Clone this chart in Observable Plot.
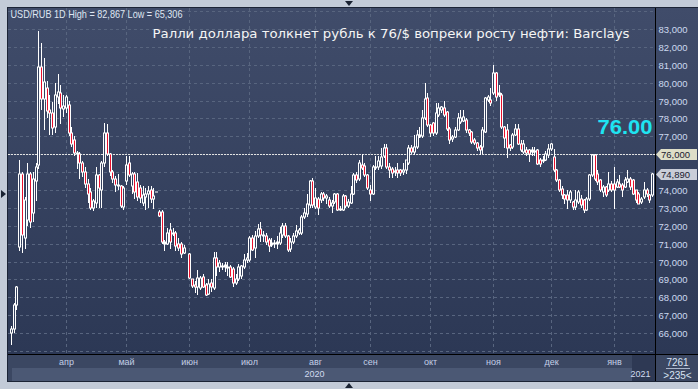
<!DOCTYPE html>
<html><head><meta charset="utf-8">
<script src="https://cdn.jsdelivr.net/npm/d3@7"></script>
<script src="https://cdn.jsdelivr.net/npm/@observablehq/plot@0.6"></script>
<style>
html,body{margin:0;padding:0;background:#c3cbd8;}
#wrap{position:relative;width:698px;height:389px;overflow:hidden;background:#c3cbd8;}
.abs{position:absolute;}
</style></head><body>
<div id="wrap">
 <div class="abs" style="left:7px;top:7px;width:691px;height:375px;background:#1c2436"></div>
 <div class="abs" style="left:8px;top:8px;width:690px;height:346px;background:linear-gradient(#404c6a,#2c3855)"></div>
 <div class="abs" style="left:8px;top:355px;width:690px;height:26px;background:#3b4762"></div>
 <div class="abs" style="left:12px;top:368px;width:620px;height:13px;background:#4b5874"></div>
 <div class="abs" style="left:632px;top:355px;width:23px;height:26px;background:#2e3954"></div>
 <div class="abs" style="left:8px;top:354px;width:690px;height:1px;background:#000"></div>
 <div class="abs" style="left:655px;top:8px;width:1px;height:373px;background:#000"></div>
 <div class="abs" style="left:666px;top:368px;width:24px;height:1px;background:#aab6cc"></div>
 <div class="abs" style="left:345px;top:1px;width:0;height:0;border-left:4px solid transparent;border-right:4px solid transparent;border-top:5px solid #1a2232"></div>
 <div class="abs" style="left:345px;top:383px;width:0;height:0;border-left:4px solid transparent;border-right:4px solid transparent;border-bottom:5px solid #1a2232"></div>
 <div class="abs" style="left:1px;top:190px;width:0;height:0;border-top:4px solid transparent;border-bottom:4px solid transparent;border-left:5px solid #1a2232"></div>
 <div id="chart" class="abs" style="left:0;top:0"></div>
</div>
<script>
// ---- data (USD/RUB daily candles, one slot per trading day; null = empty slot) ----
const open = [
66.0,66.25,67.55,70.8,74.9,71.3,72.3,74.9,72.7,74.5,
75.4,80.9,79.1,79.7,78.5,78.3,77.5,79.2,79.45,78.55,
78.6,78.75,77.2,76.8,76.05,76.0,75.5,75.0,74.35,73.9,
73.0,73.3,74.85,74.0,75.5,77.2,76.0,75.0,74.6,74.3,
74.2,73.05,74.5,75.5,74.2,74.9,74.45,74.1,73.3,73.6,
73.8,74.0,73.5,73.9,72.75,72.75,71.1,71.0,71.75,71.6,
71.6,71.0,71.0,70.5,null,70.4,69.0,68.7,68.6,68.5,
69.15,68.7,68.2,68.8,68.5,70.2,69.7,69.75,69.7,69.7,
69.7,69.6,68.8,69.0,69.2,69.7,70.1,70.1,71.3,70.75,
71.4,71.8,71.5,71.45,71.2,70.95,71.05,71.0,71.05,71.5,
72.0,71.4,70.7,71.1,71.4,71.6,71.6,72.5,72.65,73.15,
74.5,73.05,73.5,73.45,73.8,73.55,73.45,73.1,73.35,73.75,
72.95,72.9,73.65,73.1,73.3,73.8,74.85,74.6,75.4,75.35,
74.85,74.0,73.75,75.3,75.3,75.35,75.9,76.35,75.3,75.2,
75.0,75.12,75.1,74.98,75.1,75.5,76.34,76.15,76.43,76.99,
77.0,78.0,79.13,77.64,77.73,77.17,78.2,78.48,78.57,78.38,
77.4,76.84,76.95,77.36,77.83,77.88,77.92,77.36,77.27,76.8,
76.61,76.43,76.43,77.27,79.04,79.04,79.4,80.53,79.31,79.31,
77.55,77.36,76.52,76.43,77.08,77.4,76.6,76.13,76.26,76.26,
76.13,76.2,76.22,75.7,75.6,75.66,75.94,76.32,75.85,75.11,
74.55,74.08,73.71,73.71,73.43,73.34,73.06,73.34,73.52,73.43,
72.87,73.52,74.83,75.94,74.9,74.55,73.9,74.18,73.99,74.36,
74.36,74.18,74.36,74.27,74.18,74.45,74.64,74.55,73.99,73.8,
73.34,73.62,73.99,73.71,73.71
];
const high = [
66.4,67.7,68.64,75.7,75.0,73.6,75.5,75.0,75.0,75.5,
82.867,82.2,81.36,80.1,79.3,78.9,80.0,80.5,79.9,79.3,
79.3,79.0,77.5,77.0,76.2,76.1,75.6,75.3,74.6,74.1,
73.5,75.3,74.9,75.6,77.75,77.7,76.05,75.1,74.8,74.9,
74.3,74.2,75.9,75.9,75.0,75.0,74.95,74.3,74.2,74.1,
74.2,74.2,74.1,73.9,72.9,72.9,71.2,71.9,72.15,71.85,
71.7,71.3,71.1,70.9,null,70.5,69.0,68.9,69.5,69.2,
69.3,68.8,69.0,69.0,70.55,70.55,70.1,69.9,70.0,70.0,
69.8,69.7,69.3,69.85,69.8,70.4,70.5,71.4,71.5,71.7,
72.1,72.2,71.7,71.6,71.3,71.3,71.2,71.45,71.95,72.15,
72.15,71.5,71.3,71.6,72.05,71.9,72.6,72.98,73.8,74.55,
74.66,74.1,73.6,73.9,73.9,73.8,73.6,73.45,73.82,73.82,
73.1,73.8,73.7,73.5,74.2,74.95,75.0,75.7,76.0,75.5,
74.9,74.3,75.4,75.9,75.9,76.35,76.6,76.55,75.5,75.3,
75.3,75.5,75.2,75.5,75.7,76.5,76.52,77.08,77.36,77.55,
78.5,79.97,79.4,77.7,77.8,78.85,78.85,78.7,79.0,78.4,
77.5,77.1,77.5,78.29,78.5,78.5,78.0,77.4,77.3,76.9,
76.7,76.5,77.5,79.22,79.3,79.7,81.0,80.6,79.9,79.4,
77.6,77.7,76.6,77.2,77.7,77.7,76.8,76.8,76.4,76.3,
76.4,76.4,76.3,75.8,75.9,76.2,76.6,76.65,76.3,75.2,
74.6,74.2,73.8,74.0,74.0,73.4,74.0,74.0,73.7,73.5,
73.6,74.9,76.04,76.04,75.1,74.6,74.3,74.25,75.01,74.5,
75.29,74.6,74.83,74.4,74.73,75.11,74.7,74.6,74.0,73.9,
73.6,74.45,74.1,73.8,74.95
];
const low = [
65.306,66.0,67.3,70.6,70.5,70.7,72.0,71.9,72.2,73.4,
75.2,78.5,77.36,78.0,77.1,77.1,77.2,78.8,77.7,78.1,
78.3,77.0,76.4,75.9,75.2,74.6,74.7,74.1,73.3,72.9,
72.8,73.0,73.0,73.0,75.3,75.9,74.8,74.4,73.9,74.0,
73.0,72.9,74.3,74.7,73.8,73.5,73.4,73.3,73.1,72.9,
72.98,73.3,72.95,73.9,72.5,71.0,70.6,70.9,70.7,71.4,
70.6,70.6,70.2,70.4,null,69.0,68.5,68.25,68.15,68.4,
68.5,68.05,68.1,68.3,68.4,69.2,69.4,69.5,69.4,69.2,
69.1,68.6,68.7,68.9,69.0,69.6,69.9,70.0,70.6,70.2,
71.3,71.1,71.1,70.9,70.55,70.8,70.75,70.7,70.95,71.3,
71.3,70.55,70.55,71.0,71.3,71.5,71.5,72.4,72.5,73.0,
73.0,72.95,72.6,73.3,73.4,73.2,72.98,72.7,73.2,72.8,
72.85,72.85,73.0,73.0,73.2,73.7,74.4,74.5,75.1,74.7,
74.0,73.4,73.7,75.1,75.1,75.2,75.8,75.2,74.66,74.66,
74.8,74.66,74.8,74.85,74.9,75.4,76.0,75.96,76.3,76.9,
76.9,77.9,77.5,76.99,77.0,77.1,78.1,78.3,78.1,77.3,
76.6,76.7,76.9,77.3,77.7,77.8,77.2,77.0,76.6,76.5,
76.2,75.96,76.0,77.2,78.9,78.7,79.3,79.0,79.2,77.4,
76.34,75.78,76.2,76.3,77.0,76.5,76.1,76.0,75.9,75.57,
75.9,75.9,75.4,75.3,75.5,75.6,75.8,76.2,75.0,74.45,
73.9,73.5,73.24,72.96,73.3,72.87,72.9,73.2,73.0,72.69,
72.8,73.4,74.7,74.5,74.3,73.9,73.62,73.6,73.9,73.9,
72.96,74.1,74.1,73.62,74.1,74.4,74.0,73.7,73.3,73.2,
73.2,73.5,73.6,73.3,73.6
];
const close = [
66.25,67.55,68.6,74.9,71.5,73.45,74.9,72.2,74.6,75.3,
80.9,79.1,80.05,78.4,78.3,77.45,79.3,79.5,78.6,78.7,
79.2,77.2,76.6,76.05,76.0,75.5,75.0,74.35,73.8,73.0,
73.4,74.85,74.1,75.5,77.2,76.0,75.0,74.6,74.3,74.2,
73.1,74.1,75.4,74.85,74.9,73.9,73.6,73.55,73.7,73.8,
73.95,73.5,73.65,73.9,72.55,71.1,71.0,71.6,71.1,71.55,
70.85,70.75,70.4,70.75,null,69.1,68.65,68.6,69.1,69.1,
68.6,68.15,68.75,68.6,70.2,69.7,69.9,69.7,69.8,69.65,
69.15,68.8,69.05,69.7,69.75,70.1,70.2,71.3,70.65,71.4,
71.8,71.5,71.4,71.1,70.85,71.05,70.97,71.1,71.6,72.0,
71.4,70.65,71.1,71.45,71.7,71.75,72.5,72.7,73.2,74.5,
73.15,73.55,73.0,73.8,73.55,73.65,73.1,73.25,73.75,72.9,
72.9,73.65,73.1,73.35,73.8,74.85,74.55,75.5,75.25,74.85,
74.1,73.75,75.3,75.25,75.6,75.87,76.35,75.3,75.12,74.94,
75.05,74.94,74.94,75.1,75.68,76.34,76.15,76.43,77.08,77.08,
78.0,79.1,77.64,77.17,77.17,78.29,78.57,78.66,78.2,77.4,
76.8,76.99,77.36,78.01,78.01,78.1,77.36,77.17,76.71,76.61,
76.34,76.24,77.36,79.13,79.22,78.85,80.53,79.22,79.41,77.55,
76.89,76.34,76.34,77.08,77.4,76.6,76.25,76.6,76.07,76.04,
76.22,76.15,75.48,75.48,75.7,76.04,76.32,76.55,75.11,74.55,
73.99,73.71,73.52,73.43,73.9,73.06,73.43,73.9,73.15,72.87,
73.52,74.83,75.94,74.64,74.45,73.99,74.18,73.71,74.36,73.99,
73.99,74.45,74.18,73.99,74.55,74.64,74.18,73.8,73.43,73.24,
73.52,73.99,73.8,73.43,74.89
];
const monthIdx = [20, 42, 65, 87, 111, 131, 153, 176, 197, 220];
const monthLabels = ["апр","май","июн","июл","авг","сен","окт","ноя","дек","янв"];
const yearIdx = [110.6, 229.6];
const yearLabels = ["2020","2021"];
const yTicks = [66,67,68,69,70,71,72,73,74,77,78,79,80,81,82,83];
const target = 76;
const title = "Ралли доллара толкнет рубль к 76/$ вопреки росту нефти: Barclays";
const symbol = "USD/RUB 1D";

// ---- build ----
if (open.length !== close.length || high.length !== close.length || low.length !== close.length)
  throw new Error("length mismatch " + [open.length, high.length, low.length, close.length]);
const rows = [];
for (let i = 0; i < close.length; i++) {
  if (close[i] == null) continue;
  rows.push({i, o: open[i], h: high[i], l: low[i], c: close[i],
    top: Math.max(open[i], close[i]), bot: Math.min(open[i], close[i]), down: close[i] < open[i]});
}
const fmt = v => v.toFixed(3).replace(".", ",");
const info = `${symbol} High = ${fmt(d3.max(high))} Low = ${fmt(d3.min(low))}`;
const gridY = d3.range(65, 85);
const RED = "#e8102c", BG = "#36425f", GRID = "#58657f";

const plot = Plot.plot({
  width: 698, height: 389,
  marginLeft: 8, marginRight: 43, marginTop: 8, marginBottom: 35,
  style: {background: "transparent", fontFamily: "'Liberation Sans', Arial, sans-serif", fontSize: "9.5px"},
  x: {domain: [-1.095, 235.04], round: true},
  y: {domain: [64.828, 84.179], round: true},
  marks: [
    Plot.ruleY(gridY, {stroke: GRID, strokeDasharray: "3,3"}),
    Plot.ruleX(monthIdx, {stroke: GRID, strokeDasharray: "3,3"}),
    Plot.ruleY([target], {stroke: "#e2e2e2", strokeDasharray: "2,1"}),
    Plot.ruleX(rows, {x: "i", y1: "h", y2: "l", stroke: "#ffffff", strokeWidth: 1}),
    Plot.ruleX(rows, {x: "i", y1: "top", y2: "bot", stroke: "#ffffff", strokeWidth: 3, insetTop: -0.5, insetBottom: -0.5}),
    Plot.ruleX(rows.filter(d => d.down && d.top - d.bot >= 0.1), {x: "i", y1: "top", y2: "bot", stroke: RED, strokeWidth: 1, insetTop: 0.5, insetBottom: 0.5}),
    Plot.ruleX(rows.filter(d => !d.down && d.top - d.bot >= 0.1), {x: "i", y1: "top", y2: "bot", stroke: BG, strokeWidth: 1, insetTop: 0.5, insetBottom: 0.5}),
    Plot.axisY(yTicks, {anchor: "right", tickSize: 0, tickPadding: 3, tickFormat: fmt, color: "#cdd9ef", fontSize: 9.5, label: null}),
    Plot.axisX(monthIdx, {anchor: "bottom", tickSize: 0, tickPadding: 4, tickFormat: d => monthLabels[monthIdx.indexOf(d)], color: "#c3cfe6", fontSize: 9, label: null}),
    Plot.text(yearLabels, {x: yearIdx, frameAnchor: "bottom", lineAnchor: "middle", textAnchor: "middle", dy: 19.5, fontSize: 9, fill: "#d0dbef"}),
    Plot.text([info], {frameAnchor: "top-left", lineAnchor: "middle", dx: 2, dy: 6.5, textAnchor: "start", fontSize: 10.5, fill: "#dfe6f2", className: "info"}),
    Plot.text([title], {frameAnchor: "top-left", lineAnchor: "middle", dx: 144, dy: 25.8, textAnchor: "start", fontSize: 13, fontFamily: "DejaVu Sans", fill: "#f5f5f5", className: "ttl"}),
    Plot.text([target.toFixed(2)], {frameAnchor: "top-right", lineAnchor: "middle", dx: -3, dy: 119, textAnchor: "end", fontSize: 21, fontWeight: "bold", fill: "#1ee4f2", className: "big"}),
    Plot.text(["7261"], {frameAnchor: "bottom-right", lineAnchor: "middle", textAnchor: "middle", dx: 22, dy: 8.5, fontSize: 10, fill: "#d8e2f2"}),
    Plot.text([`>${close.length}<`], {frameAnchor: "bottom-right", lineAnchor: "middle", textAnchor: "middle", dx: 22, dy: 21.5, fontSize: 10, fill: "#d8e2f2"})
  ]
});

const setLen = (cls, len) => {
  const t = plot.querySelector(`.${cls} text`);
  if (t) { t.setAttribute("textLength", len); t.setAttribute("lengthAdjust", "spacingAndGlyphs"); }
};
setLen("ttl", 477);
setLen("info", 172);
setLen("big", 55);

// price tags on the right axis, positioned with the chart's y scale
const ys = plot.scale("y");
const g = d3.select(plot).append("g").attr("text-anchor", "start");
[[target, "#dedec8"], [close[close.length - 1], "#c9cdd8"]].forEach(([v, fill]) => {
  const y = Math.round(ys.apply(v)) + 0.5;
  g.append("path").attr("d", `M656,${y}L661,${y - 5.5}H697V${y + 5.5}H661Z`).attr("fill", fill);
  g.append("text").attr("x", 661).attr("y", y + 3.5).attr("font-size", 9.5).attr("text-anchor", "start")
    .attr("font-family", "'Liberation Sans', Arial, sans-serif").attr("fill", "#1b2030").text(fmt(v));
});

document.getElementById("chart").appendChild(plot);
</script>
</body></html>
